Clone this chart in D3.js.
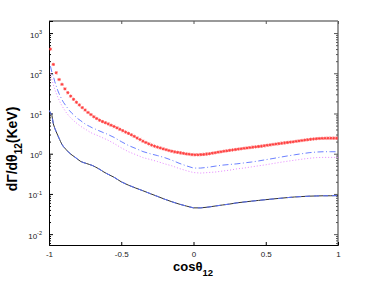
<!DOCTYPE html>
<html><head><meta charset="utf-8">
<script src="https://cdn.jsdelivr.net/npm/d3@7"></script>
<style>body{margin:0;background:#fff}svg{display:block}text{font-family:"Liberation Sans",Arial,Helvetica,sans-serif}</style>
</head><body><svg id="c" width="374" height="281"></svg>
<script>
// red asterisk markers
const cosRed = d3.range(100).map(i => +(-0.99 + 0.02 * i).toFixed(2));
const redVals = [400,166,103,70,53,41,33,27,22.5,19,16.3,14,12.2,10.6,9.4,8.3,7.5,6.8,6.3,5.9,
  5.5,5.1,4.75,4.4,4.05,3.75,3.45,3.2,2.95,2.7,2.45,2.25,2.05,1.9,1.76,1.64,1.54,1.46,1.39,1.32,
  1.26,1.2,1.15,1.11,1.08,1.05,1.02,0.99,0.97,0.95,0.94,0.94,0.95,0.96,0.98,1.0,1.03,1.06,1.09,1.12,
  1.15,1.18,1.21,1.24,1.27,1.3,1.33,1.36,1.39,1.42,1.45,1.48,1.51,1.54,1.58,1.62,1.66,1.7,1.74,1.78,
  1.82,1.86,1.9,1.94,1.98,2.03,2.08,2.13,2.18,2.23,2.28,2.32,2.36,2.39,2.41,2.42,2.43,2.43,2.43,2.43];
// line grid
const cosLine = [-1,-0.99,-0.98,-0.97,-0.96,-0.95,-0.94,-0.93,-0.92,-0.91,-0.9,-0.88,-0.86,-0.84,-0.82,-0.8,
  -0.78,-0.76,-0.74,-0.72,-0.7,-0.68,-0.66,-0.64,-0.62,-0.6,-0.55,-0.5,-0.45,-0.4,-0.35,-0.3,-0.25,-0.2,-0.15,
  -0.1,-0.05,0,0.05,0.1,0.15,0.2,0.25,0.3,0.35,0.4,0.45,0.5,0.55,0.6,0.65,0.7,0.75,0.8,0.85,0.9,0.95,1];
const blueDashDot = [null,150,105,85,62,48,38,31,26,22,19,15,12,10,8.6,7.4,6.6,5.8,5.2,4.8,4.4,4.1,3.8,3.55,3.3,3.1,
  2.55,2.0,1.6,1.35,1.13,1.0,0.9,0.8,0.69,0.58,0.5,0.44,0.44,0.46,0.49,0.52,0.54,0.56,0.59,0.62,0.66,0.71,0.76,
  0.82,0.88,0.94,1.0,1.06,1.1,1.12,1.12,1.12];
const magentaDot = [null,100,70,52,40,32,26,21.5,18,15.5,13.5,10.5,8.5,7.2,6.2,5.4,4.8,4.3,3.9,3.5,3.2,3.0,2.8,2.6,2.4,2.25,
  1.8,1.4,1.12,0.95,0.8,0.72,0.64,0.56,0.5,0.43,0.38,0.34,0.33,0.34,0.35,0.37,0.39,0.42,0.44,0.47,0.5,0.53,0.57,
  0.61,0.65,0.69,0.73,0.77,0.8,0.81,0.81,0.81];
const blackSolid = [12,10.5,9,5.5,4.3,3.5,2.9,2.4,2.0,1.7,1.5,1.25,1.05,0.92,0.82,0.72,0.64,0.6,0.57,0.54,0.51,0.47,0.43,0.39,0.35,0.32,
  0.26,0.2,0.165,0.14,0.12,0.102,0.087,0.074,0.064,0.056,0.05,0.045,0.045,0.047,0.05,0.053,0.056,0.06,0.063,0.066,0.069,0.072,0.075,
  0.078,0.081,0.084,0.086,0.088,0.089,0.09,0.09,0.091];
const blueDashed = [12,10.5,9,5.5,4.3,3.5,2.9,2.4,2.0,1.7,1.5,1.25,1.05,0.92,0.82,0.72,0.64,0.6,0.57,0.54,0.51,0.47,0.43,0.39,0.35,0.32,
  0.26,0.2,0.165,0.14,0.12,0.102,0.087,0.074,0.064,0.056,0.05,0.045,0.045,0.047,0.05,0.053,0.056,0.06,0.063,0.066,0.069,0.072,0.075,
  0.078,0.081,0.084,0.086,0.088,0.089,0.09,0.09,0.091];
const xTicks = [-1,-0.5,0,0.5,1];
const xTickLabels = ["-1","-0.5","0","0.5","1"];
const yExps = [-2,-1,0,1,2,3];

const svg = d3.select("#c");
const L = 49, R = 338, T = 21, B = 245;
const x = d3.scaleLinear([-1, 1], [L, R]);
const y = d3.scaleLog([Math.pow(10, -2.27), Math.pow(10, 3.3)], [B, T]);
const yMajor = yExps.map(e => Math.pow(10, e));
const yMinor = [];
for (let e = -3; e <= 3; e++) for (let k = 2; k <= 9; k++) { const v = k * Math.pow(10, e); if (v >= y.domain()[0] && v <= y.domain()[1]) yMinor.push(v); }

// frame lines (top/right gray)
svg.append("line").attr("x1", L).attr("x2", R).attr("y1", T).attr("y2", T).attr("stroke", "#777").attr("stroke-width", 1.3);
svg.append("line").attr("x1", R).attr("x2", R).attr("y1", T).attr("y2", B).attr("stroke", "#777").attr("stroke-width", 1.5);

// axes
const gx = svg.append("g").attr("transform", `translate(0,${B})`)
  .call(d3.axisBottom(x).tickValues(xTicks).tickSize(-3).tickPadding(6).tickFormat((d, i) => xTickLabels[i]));
const gxt = svg.append("g").attr("transform", `translate(0,${T})`)
  .call(d3.axisTop(x).tickValues(xTicks).tickSize(-3).tickFormat(""));
const gy = svg.append("g").attr("transform", `translate(${L},0)`)
  .call(d3.axisLeft(y).tickValues(yMajor).tickSize(-4).tickPadding(7).tickFormat(""));
const gym = svg.append("g").attr("transform", `translate(${L},0)`)
  .call(d3.axisLeft(y).tickValues(yMinor).tickSize(-2).tickFormat(""));
const gyr = svg.append("g").attr("transform", `translate(${R},0)`)
  .call(d3.axisRight(y).tickValues(yMajor).tickSize(-4).tickFormat(""));
const gyrm = svg.append("g").attr("transform", `translate(${R},0)`)
  .call(d3.axisRight(y).tickValues(yMinor).tickSize(-2).tickFormat(""));
[gxt, gyr, gyrm].forEach(g => { g.select(".domain").remove(); g.selectAll("line").attr("stroke", "#555"); });
gym.select(".domain").remove();
[gx, gy].forEach(g => g.select(".domain").attr("stroke", "#000").attr("stroke-width", 1));
gx.selectAll("text").attr("font-size", 8).attr("fill", "#222");

// y tick labels with superscripts
gy.selectAll(".tick").each(function (d) {
  const e = Math.round(Math.log10(d));
  const t = d3.select(this).select("text").attr("font-size", 8).attr("fill", "#222").attr("dy", "0.5em").text(null);
  t.append("tspan").text("10");
  t.append("tspan").attr("dy", "-0.6em").attr("font-size", 5.5).text(e);
});

const clip = svg.append("clipPath").attr("id", "pc").append("rect").attr("x", L).attr("y", T).attr("width", R - L).attr("height", B - T);
const plot = svg.append("g").attr("clip-path", "url(#pc)");

const lineGen = vals => d3.line().defined((d, i) => vals[i] != null).x((d, i) => x(cosLine[i])).y((d, i) => y(vals[i]))(cosLine);

plot.append("path").attr("d", lineGen(magentaDot)).attr("fill", "none").attr("stroke", "#e27bff").attr("stroke-width", 0.9).attr("stroke-dasharray", "1,2");
plot.append("path").attr("d", lineGen(blueDashDot)).attr("fill", "none").attr("stroke", "#5a72ff").attr("stroke-width", 0.9).attr("stroke-dasharray", "6,2.5,1,2.5");
plot.append("path").attr("d", lineGen(blackSolid)).attr("fill", "none").attr("stroke", "#333").attr("stroke-width", 1);
plot.append("path").attr("d", lineGen(blueDashed)).attr("fill", "none").attr("stroke", "#5a72ff").attr("stroke-width", 1).attr("stroke-dasharray", "5,4");

// red asterisks
const s = 1.6;
plot.selectAll(".mk").data(redVals).enter().append("path").attr("class", "mk")
  .attr("transform", (d, i) => `translate(${x(cosRed[i])},${y(d)})`)
  .attr("d", `M${-s},0H${s}M0,${-s}V${s}M${-s*0.75},${-s*0.75}L${s*0.75},${s*0.75}M${-s*0.75},${s*0.75}L${s*0.75},${-s*0.75}`)
  .attr("stroke", "#ff3b3b").attr("stroke-width", 0.85).attr("fill", "none");

// axis titles
const xl = svg.append("text").attr("x", 193).attr("y", 271).attr("text-anchor", "middle").attr("font-weight", "bold").attr("font-size", 13).attr("fill", "#000");
xl.append("tspan").text("cosθ");
xl.append("tspan").attr("dy", 5).attr("font-size", 9.5).text("12");

const yl = svg.append("text").attr("transform", "translate(17,149) rotate(-90)").attr("text-anchor", "middle").attr("font-weight", "bold").attr("font-size", 14).attr("fill", "#000");
yl.append("tspan").text("dΓ/dθ");
yl.append("tspan").attr("dy", 5).attr("font-size", 10).text("12");
yl.append("tspan").attr("dy", -5).text("(KeV)");
</script></body></html>
